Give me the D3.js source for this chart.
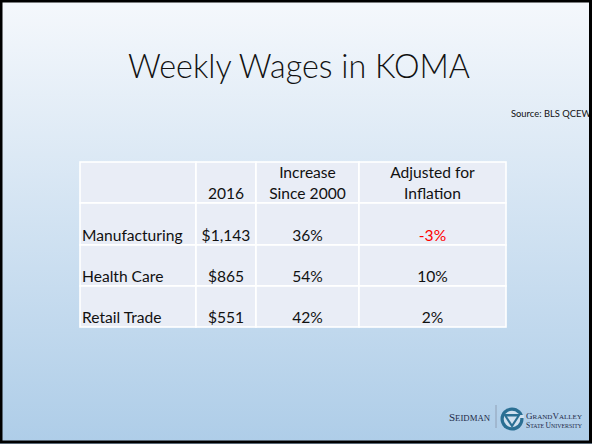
<!DOCTYPE html>
<html><head><meta charset="utf-8">
<script src="https://cdn.jsdelivr.net/npm/d3@7"></script>
<style>html,body{margin:0;padding:0;background:#fff;}svg{display:block;}</style>
</head><body>
<svg id="c" width="592" height="444"></svg>
<script>
const title = "Weekly Wages in KOMA";
const source = "Source: BLS QCEW";
const headers = [[""], ["2016"], ["Increase", "Since 2000"], ["Adjusted for", "Inflation"]];
const industries = ["Manufacturing", "Health Care", "Retail Trade"];
const wages2016 = [1143, 865, 551];
const increaseSince2000 = [36, 54, 42];
const adjustedForInflation = [-3, 10, 2];

const svg = d3.select("#c");
const W = 592, H = 444;
const defs = svg.append("defs");
const g = defs.append("linearGradient").attr("id","bg").attr("x1",0).attr("y1",0).attr("x2",0).attr("y2",1);
g.append("stop").attr("offset","0%").attr("stop-color","#f5f8fc");
g.append("stop").attr("offset","100%").attr("stop-color","#aecde8");
svg.append("rect").attr("width",W).attr("height",H).attr("fill","url(#bg)");

svg.append("text").attr("x",299).attr("y",77.5).attr("text-anchor","middle")
  .attr("font-family","Lato").attr("font-weight",300).attr("font-size",32.5).attr("fill","#111")
  .attr("textLength",342).attr("lengthAdjust","spacingAndGlyphs")
  .text(title);

svg.append("text").attr("x",511).attr("y",117).attr("font-family","Lato").attr("font-size",9.4).attr("fill","#111").text(source);

// table
const colEdges = [80, 196, 256, 359, 506];
const x = d3.scaleOrdinal().domain([0,1,2,3]).range(colEdges.slice(0,4));
const wdt = i => colEdges[i+1]-colEdges[i];
const rowKeys = ["header"].concat(industries);
const rowEdges = [162, 203, 245, 286, 327];
const ry = d3.scaleOrdinal().domain(rowKeys).range(rowEdges.slice(0,4));
const rh = k => rowEdges[rowKeys.indexOf(k)+1]-ry(k);

const fmtMoney = d => "$" + d3.format(",")(d);
const rows = industries.map((n,i) => [n, fmtMoney(wages2016[i]), increaseSince2000[i]+"%", adjustedForInflation[i]+"%"]);
const cells = [];
rowKeys.forEach((k,ri) => {
  for (let c=0;c<4;c++) {
    cells.push({k, c, lines: ri===0 ? headers[c] : [rows[ri-1][c]], neg: ri>0 && c===3 && adjustedForInflation[ri-1] < 0});
  }
});
const tg = svg.append("g");
tg.selectAll("rect.cell").data(cells).join("rect").attr("class","cell")
  .attr("x", d=>x(d.c)).attr("y", d=>ry(d.k)).attr("width", d=>wdt(d.c)).attr("height", d=>rh(d.k))
  .attr("fill","#e9edf6").attr("stroke","#ffffff").attr("stroke-width",1.6);

tg.selectAll("text.cell").data(cells).join("text").attr("class","cell")
  .attr("x", d => d.c===0 ? x(d.c)+2 : x(d.c)+wdt(d.c)/2)
  .attr("text-anchor", d => d.c===0 ? "start" : "middle")
  .attr("font-family","Lato").attr("font-size",15.6)
  .attr("fill", d => d.neg ? "#ff0000" : "#111")
  .each(function(d){
    const t = d3.select(this);
    const base = ry(d.k) + rh(d.k) - 4.5;
    d.lines.forEach((ln,i) => {
      t.append("tspan").attr("x", d.c===0 ? x(d.c)+2 : x(d.c)+wdt(d.c)/2)
       .attr("y", base - (d.lines.length-1-i)*21).text(ln);
    });
  });

// logo
const lg = svg.append("g");
lg.append("text").attr("x",449).attr("y",421).attr("font-family","Liberation Serif").attr("font-size",10.5).attr("fill","#1d2a48")
  .attr("textLength",41).attr("lengthAdjust","spacingAndGlyphs")
  .text("S").append("tspan").attr("font-size",8.3).text("EIDMAN");
lg.append("line").attr("x1",496).attr("x2",496).attr("y1",405).attr("y2",428).attr("stroke","#8894a8").attr("stroke-width",0.8);
lg.append("circle").attr("cx",512).attr("cy",419).attr("r",11.5).attr("fill","#2a6f93");
lg.append("circle").attr("cx",512).attr("cy",419).attr("r",8.3).attr("fill","#cfe0ef");
lg.append("rect").attr("x",512).attr("y",415).attr("width",12).attr("height",3).attr("fill","#cfe0ef");
lg.append("path").attr("d","M503,414 L521,414 L512,428 Z").attr("fill","#2a6f93");
lg.append("path").attr("d","M507,416.5 L517,416.5 L512,424 Z").attr("fill","#cfe0ef");
lg.append("text").attr("x",526).attr("y",419).attr("font-family","Liberation Serif").attr("font-size",9).attr("fill","#1d2a48")
  .attr("textLength",56).attr("lengthAdjust","spacingAndGlyphs")
  .text("G").append("tspan").attr("font-size",7).text("RAND").append("tspan").attr("font-size",9).text("V").append("tspan").attr("font-size",7).text("ALLEY");
lg.append("text").attr("x",526).attr("y",428).attr("font-family","Liberation Serif").attr("font-size",8).attr("fill","#1d2a48")
  .attr("textLength",56).attr("lengthAdjust","spacingAndGlyphs")
  .text("S").append("tspan").attr("font-size",6.2).text("TATE ").append("tspan").attr("font-size",8).text("U").append("tspan").attr("font-size",6.2).text("NIVERSITY");

// frame
svg.append("rect").attr("x",1).attr("y",1).attr("width",W-2.5).attr("height",H-3).attr("fill","none").attr("stroke","#000").attr("stroke-width",3);
</script>
</body></html>
